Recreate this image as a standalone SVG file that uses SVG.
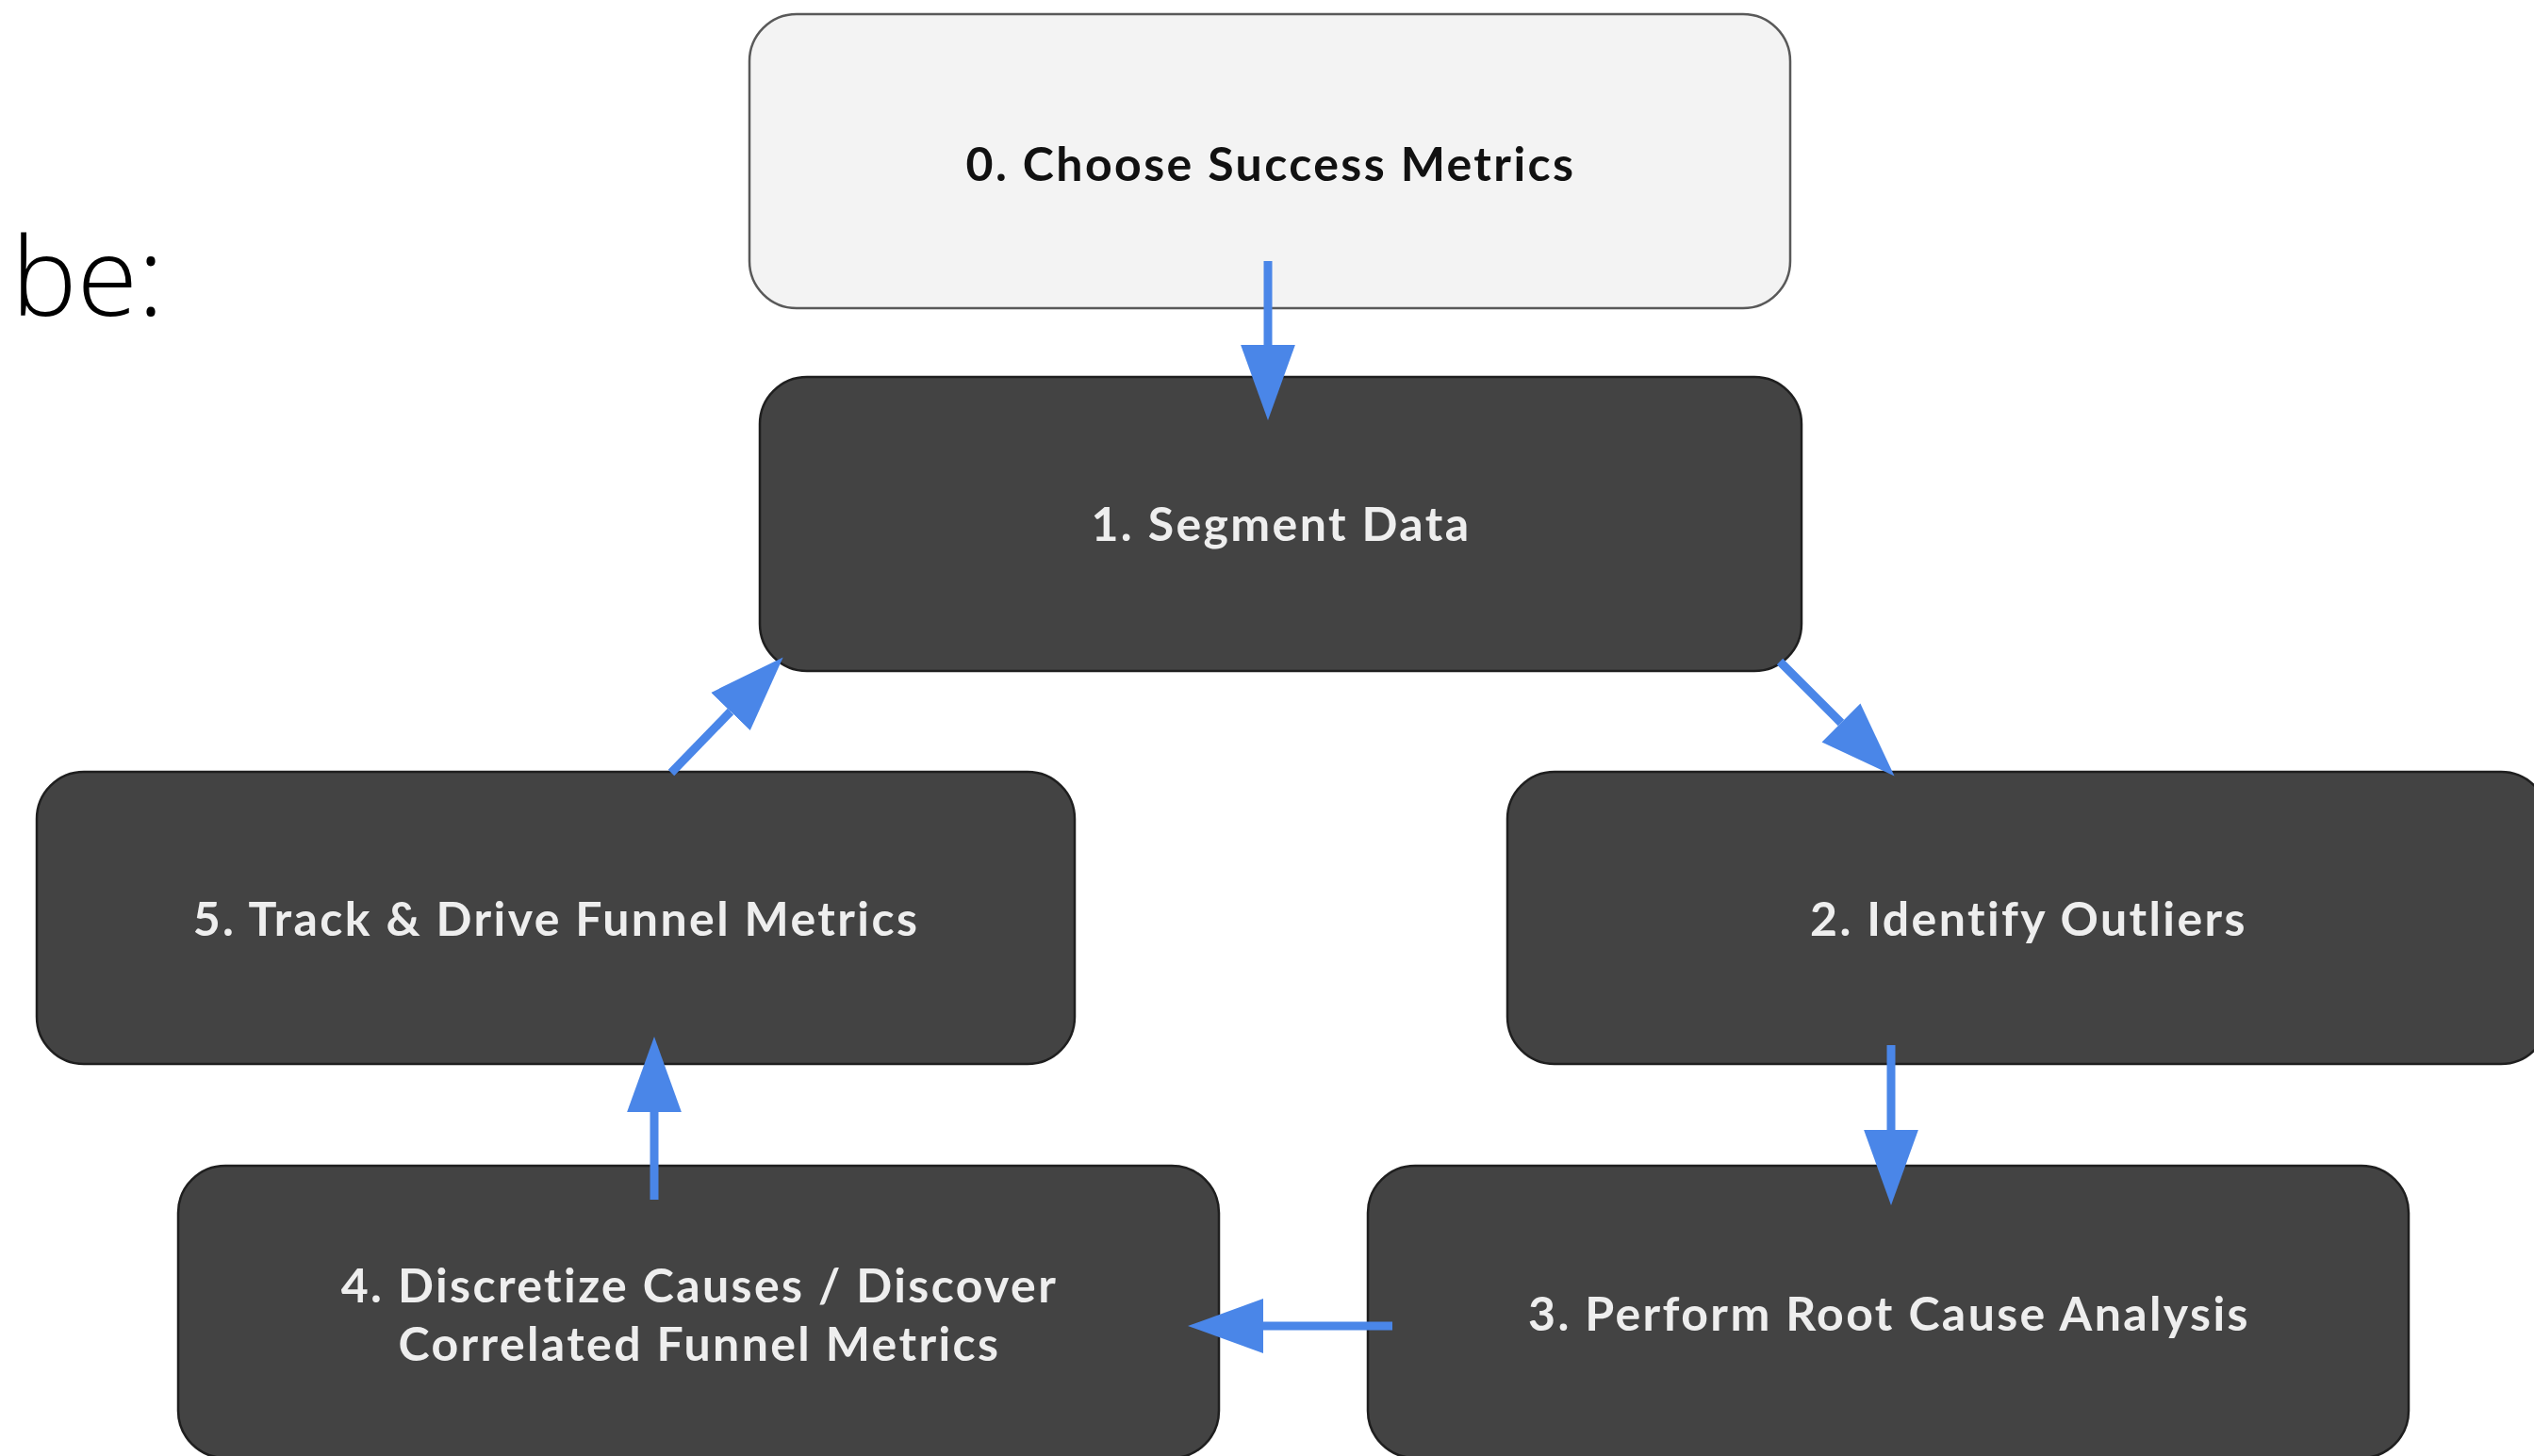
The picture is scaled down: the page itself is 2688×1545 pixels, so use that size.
<svg xmlns="http://www.w3.org/2000/svg" width="2688" height="1545" viewBox="0 0 2688 1545">
<defs>
<style>
.node-light{fill:#f3f3f3;stroke:#595959;stroke-width:2.5}
.node-dark{fill:#434343;stroke:#1f1f1f;stroke-width:2.5}
.lbl{font-family:Lato,"Liberation Sans",sans-serif;font-weight:700;font-size:50px;letter-spacing:2.4px;text-anchor:middle}
.lbl-dark{fill:#111111}
.lbl-light{fill:#eeeeee}
.conn{stroke:#4a86e8;stroke-width:9;fill:none;marker-end:url(#ah)}
.bigtext{font-family:"Open Sans",Lato,sans-serif;font-weight:300;font-size:117px;fill:#000}
</style>
<marker id="ah" markerUnits="userSpaceOnUse" markerWidth="80" markerHeight="60" viewBox="0 0 72 52" refX="0" refY="26" orient="auto">
<path d="M0,0 L72,26 L0,52 z" fill="#4a86e8"/>
</marker>
</defs>
<rect width="2688" height="1545" fill="#ffffff"/>
<text class="bigtext" x="12" y="335">be:</text>
<g id="node0"><rect class="node-light" x="795" y="15" width="1104" height="312" rx="50"/><text class="lbl lbl-dark" x="1348" y="192">0. Choose Success Metrics</text></g>
<g id="node1"><rect class="node-dark" x="806" y="400" width="1105" height="312" rx="50"/><text class="lbl lbl-light" x="1359" y="574">1. Segment Data</text></g>
<g id="node5"><rect class="node-dark" x="39" y="819" width="1101" height="310" rx="50"/><text class="lbl lbl-light" x="590" y="993">5. Track &amp; Drive Funnel Metrics</text></g>
<g id="node2"><rect class="node-dark" x="1599" y="819" width="1104" height="310" rx="50"/><text class="lbl lbl-light" x="2152" y="993">2. Identify Outliers</text></g>
<g id="node4"><rect class="node-dark" x="189" y="1237" width="1104" height="310" rx="50"/><text class="lbl lbl-light" x="742" y="1382">4. Discretize Causes / Discover</text><text class="lbl lbl-light" x="742" y="1444">Correlated Funnel Metrics</text></g>
<g id="node3"><rect class="node-dark" x="1451" y="1237" width="1104" height="310" rx="50"/><text class="lbl lbl-light" x="2004" y="1412">3. Perform Root Cause Analysis</text></g>
<g id="connectors">
<line class="conn" x1="1345" y1="277" x2="1345" y2="366"/>
<line class="conn" x1="1888" y1="702" x2="1953" y2="767"/>
<line class="conn" x1="2006" y1="1109" x2="2006" y2="1199"/>
<line class="conn" x1="1477" y1="1407" x2="1340" y2="1407"/>
<line class="conn" x1="694" y1="1273" x2="694" y2="1180"/>
<line class="conn" x1="712" y1="820" x2="775" y2="755"/>
</g>
</svg>
